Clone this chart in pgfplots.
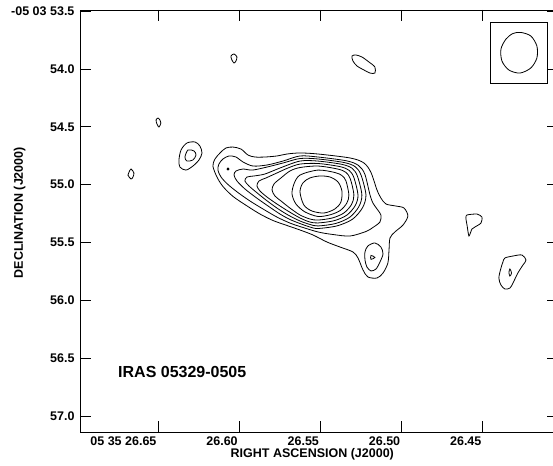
\documentclass[border=0pt]{standalone}
\usepackage{fontspec}
\setmainfont{Liberation Sans}
\usepackage{pgfplots}
\pgfplotsset{compat=1.18}
\begin{document}
\begin{tikzpicture}
\begin{axis}[
    at={(0,0)}, anchor=south west,
    scale only axis,
    width=478pt, height=422pt,
    x dir=reverse, y dir=reverse,
    xmin=26.4038, xmax=26.6980,
    ymin=53.4899, ymax=57.1385,
    axis line style={line width=0.9pt},
    tick style={black, line width=0.9pt},
    major tick length=11pt,
    xtick={26.45,26.50,26.55,26.60,26.65},
    xticklabels={26.45,26.50,26.55,26.60,05 35 26.65},
    ytick={53.5,54.0,54.5,55.0,55.5,56.0,56.5,57.0},
    yticklabels={-05 03 53.5,54.0,54.5,55.0,55.5,56.0,56.5,57.0},
    /pgf/number format/assume math mode=true,
    ticklabel style={font=\bfseries\fontsize{12.5}{14}\selectfont},
    xticklabel style={anchor=north east, xshift=2pt, yshift=-1pt},
    yticklabel style={xshift=-2pt},
    xlabel={RIGHT ASCENSION (J2000)},
    ylabel={DECLINATION (J2000)},
    every axis x label/.style={at={(axis description cs:0.486,0)}, anchor=north, yshift=-16pt, inner sep=0pt, font=\bfseries\fontsize{12.5}{14}\selectfont},
    every axis y label/.style={at={(axis description cs:-0.126,0.52)}, rotate=90, anchor=center, inner sep=0pt, font=\bfseries\fontsize{12.5}{14}\selectfont},
    cnt/.style={black, line width=0.8pt, smooth cycle, mark=none},
]
% outermost contour
\addplot[cnt] coordinates {(26.6162,54.839) (26.6149,54.778) (26.6118,54.726) (26.6082,54.683) (26.6038,54.675) (26.5989,54.692) (26.5946,54.744) (26.5903,54.761) (26.5842,54.761) (26.5768,54.752) (26.5706,54.735) (26.5626,54.726) (26.5515,54.735) (26.5315,54.770) (26.5232,54.813) (26.5189,54.895) (26.5152,55.046) (26.5128,55.115) (26.5097,55.167) (26.5035,55.185) (26.4986,55.202) (26.4962,55.271) (26.4992,55.349) (26.5042,55.409) (26.5072,55.461) (26.5078,55.564) (26.5085,55.677) (26.5115,55.764) (26.5152,55.807) (26.5208,55.798) (26.5238,55.738) (26.5269,55.634) (26.5300,55.582) (26.5380,55.539) (26.5460,55.496) (26.5546,55.435) (26.5626,55.392) (26.5706,55.353) (26.5792,55.310) (26.5872,55.254) (26.5952,55.184) (26.6038,55.102) (26.6100,55.016) (26.6137,54.934)};
\addplot[cnt] coordinates {(26.6131,54.874) (26.6125,54.822) (26.6100,54.778) (26.6063,54.752) (26.6020,54.761) (26.5977,54.804) (26.5915,54.839) (26.5829,54.830) (26.5731,54.796) (26.5626,54.752) (26.5515,54.761) (26.5339,54.794) (26.5266,54.834) (26.5227,54.909) (26.5195,55.089) (26.5177,55.159) (26.5152,55.210) (26.5128,55.262) (26.5134,55.323) (26.5177,55.370) (26.5220,55.405) (26.5318,55.444) (26.5423,55.431) (26.5515,55.409) (26.5626,55.362) (26.5688,55.332) (26.5768,55.280) (26.5854,55.210) (26.5934,55.141) (26.6008,55.068) (26.6069,54.999) (26.6112,54.934)};
\addplot[cnt] coordinates {(26.6032,54.917) (26.6020,54.882) (26.5977,54.865) (26.5922,54.874) (26.5854,54.856) (26.5731,54.813) (26.5626,54.774) (26.5515,54.778) (26.5353,54.809) (26.5285,54.846) (26.5250,54.918) (26.5220,55.089) (26.5241,55.199) (26.5302,55.298) (26.5397,55.356) (26.5515,55.379) (26.5565,55.366) (26.5626,55.336) (26.5688,55.301) (26.5749,55.254) (26.5823,55.184) (26.5897,55.111) (26.5965,55.037) (26.6014,54.968)};
\addplot[cnt] coordinates {(26.5965,54.968) (26.5952,54.934) (26.5909,54.925) (26.5842,54.908) (26.5749,54.856) (26.5626,54.796) (26.5515,54.796) (26.5366,54.825) (26.5304,54.860) (26.5272,54.928) (26.5245,55.089) (26.5264,55.191) (26.5320,55.282) (26.5407,55.336) (26.5515,55.357) (26.5565,55.344) (26.5626,55.314) (26.5700,55.262) (26.5768,55.202) (26.5835,55.133) (26.5897,55.063) (26.5940,55.011)};
\addplot[cnt] coordinates {(26.5891,55.011) (26.5878,54.968) (26.5835,54.942) (26.5768,54.899) (26.5700,54.856) (26.5626,54.822) (26.5515,54.817) (26.5380,54.844) (26.5323,54.877) (26.5294,54.940) (26.5269,55.089) (26.5286,55.181) (26.5338,55.264) (26.5417,55.312) (26.5515,55.331) (26.5565,55.323) (26.5626,55.288) (26.5700,55.228) (26.5768,55.167) (26.5829,55.107) (26.5872,55.055)};
\addplot[cnt] coordinates {(26.5798,55.046) (26.5786,54.994) (26.5743,54.942) (26.5688,54.882) (26.5626,54.852) (26.5515,54.839) (26.5394,54.865) (26.5343,54.894) (26.5316,54.951) (26.5294,55.089) (26.5309,55.172) (26.5356,55.245) (26.5427,55.288) (26.5515,55.306) (26.5565,55.297) (26.5626,55.262) (26.5688,55.202) (26.5743,55.141) (26.5780,55.098)};
\addplot[cnt] coordinates {(26.5675,55.081) (26.5663,54.994) (26.5626,54.917) (26.5515,54.874) (26.5411,54.895) (26.5368,54.921) (26.5343,54.968) (26.5325,55.089) (26.5338,55.160) (26.5378,55.223) (26.5439,55.260) (26.5515,55.275) (26.5595,55.236) (26.5651,55.167)};
% peak
\addplot[cnt] coordinates {(26.5626,55.063) (26.5608,54.985) (26.5565,54.942) (26.5503,54.925) (26.5441,54.934) (26.5392,54.977) (26.5368,55.055) (26.5374,55.150) (26.5411,55.210) (26.5478,55.245) (26.5552,55.228) (26.5602,55.176)};
% secondary peak to the south-west
\addplot[cnt] coordinates {(26.5165,55.504) (26.5128,55.539) (26.5115,55.599) (26.5134,55.669) (26.5158,55.729) (26.5189,55.746) (26.5214,55.712) (26.5226,55.651) (26.5226,55.582) (26.5208,55.530)};
\addplot[cnt] coordinates {(26.5189,55.612) (26.5165,55.629) (26.5189,55.646)};
\addplot[cnt] coordinates {(26.6075,54.865) (26.6069,54.856) (26.6063,54.865) (26.6069,54.874)};
% isolated contours
\addplot[cnt] coordinates {(26.6051,53.888) (26.6032,53.870) (26.6014,53.896) (26.6020,53.931) (26.6032,53.948) (26.6045,53.922)};
\addplot[cnt] coordinates {(26.5306,53.888) (26.5282,53.879) (26.5245,53.896) (26.5202,53.939) (26.5165,53.983) (26.5165,54.035) (26.5195,54.035) (26.5232,54.009) (26.5275,53.974) (26.5300,53.931)};
\addplot[cnt] coordinates {(26.6500,54.424) (26.6488,54.441) (26.6482,54.467) (26.6494,54.502) (26.6506,54.476) (26.6512,54.441)};
\addplot[cnt] coordinates {(26.6322,54.640) (26.6272,54.631) (26.6242,54.666) (26.6229,54.727) (26.6248,54.787) (26.6285,54.839) (26.6328,54.874) (26.6365,54.848) (26.6371,54.787) (26.6358,54.700)};
\addplot[cnt] coordinates {(26.6315,54.700) (26.6278,54.709) (26.6266,54.744) (26.6285,54.787) (26.6322,54.796) (26.6334,54.761)};
\addplot[cnt] coordinates {(26.6666,54.865) (26.6648,54.899) (26.6654,54.934) (26.6666,54.951) (26.6685,54.917) (26.6678,54.891)};
\addplot[cnt, tension=0.4] coordinates {(26.4598,55.262) (26.4537,55.254) (26.4506,55.280) (26.4512,55.332) (26.4549,55.366) (26.4568,55.384) (26.4586,55.444) (26.4598,55.349) (26.4605,55.288)};
\addplot[cnt] coordinates {(26.4365,55.634) (26.4315,55.617) (26.4260,55.608) (26.4235,55.652) (26.4254,55.695) (26.4285,55.764) (26.4315,55.850) (26.4334,55.894) (26.4365,55.902) (26.4389,55.868) (26.4402,55.807) (26.4389,55.721) (26.4377,55.669)};
\addplot[cnt] coordinates {(26.4334,55.729) (26.4324,55.764) (26.4334,55.790) (26.4340,55.760)};
% beam
\addplot[black, line width=0.8pt, mark=none] coordinates {(26.4451,53.594) (26.4106,53.594) (26.4106,54.121) (26.4451,54.121) (26.4451,53.594)};
\addplot[cnt] coordinates {(26.4266,53.684) (26.4205,53.715) (26.4168,53.801) (26.4168,53.905) (26.4205,53.991) (26.4272,54.035) (26.4340,54.009) (26.4383,53.931) (26.4389,53.827) (26.4358,53.741) (26.4315,53.693)};
\node[anchor=west, inner sep=0pt, font=\bfseries\fontsize{16}{18}\selectfont] at (axis cs:26.6746,56.624) {IRAS 05329-0505};
\end{axis}
\pgfresetboundingbox
\path (-80pt,-33pt) rectangle (473pt,432pt);
\end{tikzpicture}
\end{document}
